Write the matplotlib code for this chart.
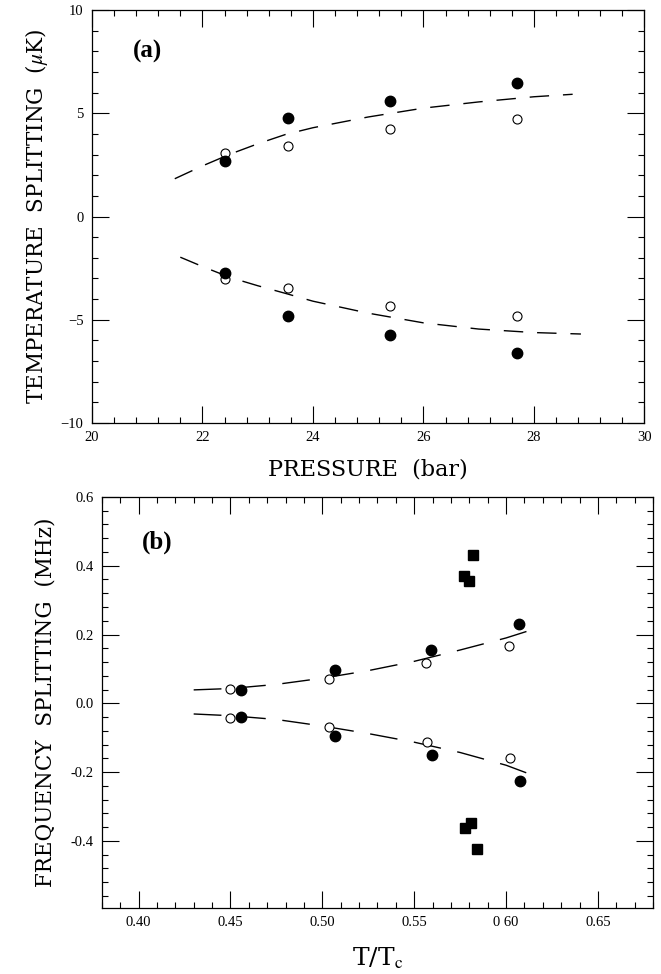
import matplotlib
matplotlib.use("Agg")
import matplotlib.pyplot as plt
from matplotlib.ticker import MultipleLocator, FixedLocator

plt.rcParams['font.family'] = ['Liberation Serif', 'DejaVu Serif']
plt.rcParams['mathtext.fontset'] = 'stix'

# ---------------- Panel (a) data ----------------
pressure = [22.4, 23.55, 25.4, 27.7]
a_filled_up = [2.69, 4.76, 5.58, 6.49]
a_open_up = [3.1, 3.41, 4.22, 4.74]
a_filled_lo = [-2.73, -4.84, -5.72, -6.62]
a_open_lo = [-3.03, -3.46, -4.35, -4.84]

a_fit_x = [21.5, 22.0, 22.5, 23.0, 23.5, 24.0, 25.0, 26.0, 27.0, 28.0, 28.7]
a_fit_up = [1.83, 2.45, 3.02, 3.52, 3.97, 4.3, 4.82, 5.25, 5.55, 5.8, 5.92]
a_fit_x_lo = [21.6, 22.0, 22.5, 23.0, 23.5, 24.0, 25.0, 26.0, 27.0, 28.0, 28.85]
a_fit_lo = [-1.97, -2.42, -2.95, -3.35, -3.72, -4.1, -4.68, -5.15, -5.45, -5.62, -5.69]

a_xticks = [20, 22, 24, 26, 28, 30]
a_yticks = [-10, -5, 0, 5, 10]

# ---------------- Panel (b) data ----------------
t_open = [0.4498, 0.5034, 0.5564, 0.6016]
t_filled = [0.456, 0.5068, 0.5592, 0.6068]
b_open_up = [0.043, 0.070, 0.116, 0.166]
b_filled_up = [0.038, 0.098, 0.154, 0.231]
t_open_lo = [0.4498, 0.5034, 0.557, 0.602]
t_filled_lo = [0.456, 0.5068, 0.5598, 0.6076]
b_open_lo = [-0.043, -0.068, -0.112, -0.160]
b_filled_lo = [-0.039, -0.096, -0.150, -0.2245]

t_sq_up = [0.5771, 0.580, 0.582]
b_sq_up = [0.370, 0.356, 0.431]
t_sq_lo = [0.5777, 0.581, 0.584]
b_sq_lo = [-0.362, -0.349, -0.424]

b_fit_x = [0.43, 0.45, 0.475, 0.50, 0.525, 0.55, 0.575, 0.60, 0.613]
b_fit_up = [0.039, 0.043, 0.055, 0.073, 0.095, 0.122, 0.155, 0.19, 0.212]
b_fit_x_lo = [0.43, 0.45, 0.475, 0.50, 0.525, 0.55, 0.575, 0.60, 0.615]
b_fit_lo = [-0.031, -0.036, -0.047, -0.066, -0.088, -0.113, -0.143, -0.18, -0.21]

b_xticks = [0.40, 0.45, 0.50, 0.55, 0.60, 0.65]
b_xticklabels = ['0.40', '0.45', '0.50', '0.55', '0 60', '0.65']
b_yticks = [-0.4, -0.2, 0.0, 0.2, 0.4, 0.6]
b_yticklabels = ['-0.4', '-0.2', '0.0', '0.2', '0.4', '0.6']

fig = plt.figure(figsize=(6.61, 9.74), dpi=100)

LABEL_FONT = ['DejaVu Serif']

def style(ax):
    for s in ax.spines.values():
        s.set_linewidth(0.9)
    ax.tick_params(which='both', direction='in', top=True, right=True, width=0.8,
                   labelsize=10.5, pad=6)
    ax.tick_params(which='major', length=12)
    ax.tick_params(which='minor', length=4)

# Panel (a)
axa = fig.add_axes([0.139, 0.5657, 0.836, 0.424])
axa.plot(a_fit_x, a_fit_up, color='black', lw=1.0, dashes=(14, 10))
axa.plot(a_fit_x_lo, a_fit_lo, color='black', lw=1.0, dashes=(14, 10))
axa.plot(pressure, a_open_up, 'o', mfc='white', mec='black', ms=6.5, mew=0.8)
axa.plot(pressure, a_open_lo, 'o', mfc='white', mec='black', ms=6.5, mew=0.8)
axa.plot(pressure, a_filled_up, 'o', color='black', ms=7.5)
axa.plot(pressure, a_filled_lo, 'o', color='black', ms=7.5)
axa.set_xlim(20, 30)
axa.set_ylim(-10, 10)
axa.xaxis.set_major_locator(FixedLocator(a_xticks))
axa.yaxis.set_major_locator(FixedLocator(a_yticks))
axa.xaxis.set_minor_locator(MultipleLocator(0.4))
axa.yaxis.set_minor_locator(MultipleLocator(1))
style(axa)
axa.set_xlabel('PRESSURE  (bar)', fontsize=16, labelpad=10, family=LABEL_FONT)
axa.set_ylabel(r'TEMPERATURE  SPLITTING  ($\mu$K)', fontsize=15.5, labelpad=8,
               family=LABEL_FONT)
axa.text(0.1, 0.9, '(a)', transform=axa.transAxes, fontsize=18, fontweight='bold',
         ha='center', va='center')

# Panel (b)
axb = fig.add_axes([0.154, 0.0678, 0.834, 0.422])
axb.plot(b_fit_x, b_fit_up, color='black', lw=1.0, dashes=(20, 12))
axb.plot(b_fit_x_lo, b_fit_lo, color='black', lw=1.0, dashes=(20, 12))
axb.plot(t_open, b_open_up, 'o', mfc='white', mec='black', ms=6.5, mew=0.8)
axb.plot(t_open_lo, b_open_lo, 'o', mfc='white', mec='black', ms=6.5, mew=0.8)
axb.plot(t_filled, b_filled_up, 'o', color='black', ms=7.5)
axb.plot(t_filled_lo, b_filled_lo, 'o', color='black', ms=7.5)
axb.plot(t_sq_up, b_sq_up, 's', color='black', ms=7)
axb.plot(t_sq_lo, b_sq_lo, 's', color='black', ms=7)
axb.set_xlim(0.38, 0.68)
axb.set_ylim(-0.595, 0.6)
axb.set_xticks(b_xticks)
axb.set_xticklabels(b_xticklabels)
axb.set_yticks(b_yticks)
axb.set_yticklabels(b_yticklabels)
axb.xaxis.set_minor_locator(MultipleLocator(0.01))
axb.yaxis.set_minor_locator(MultipleLocator(0.04))
style(axb)
axb.set_xlabel(r'T/T$_{\mathrm{c}}$', fontsize=18, labelpad=12, family=LABEL_FONT)
axb.set_ylabel('FREQUENCY  SPLITTING  (MHz)', fontsize=15.5, labelpad=10,
               family=LABEL_FONT)
axb.text(0.1, 0.89, '(b)', transform=axb.transAxes, fontsize=18, fontweight='bold',
         ha='center', va='center')

fig.savefig('out.png', dpi=100)
